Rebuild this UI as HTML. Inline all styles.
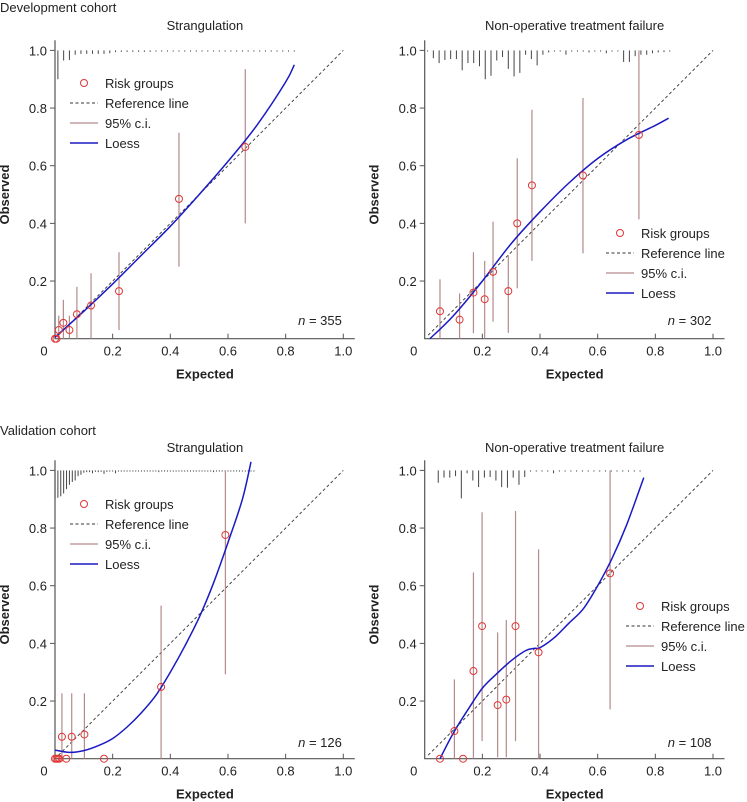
<!DOCTYPE html>
<html><head><meta charset="utf-8">
<style>
html,body{margin:0;padding:0;background:#fff;}
svg{display:block;font-family:"Liberation Sans",sans-serif;}
</style></head>
<body>
<svg id="chart" width="747" height="802" viewBox="0 0 747 802">
<text x="0" y="12" font-size="13" fill="#222">Development cohort</text>
<text x="0" y="435" font-size="13" fill="#222">Validation cohort</text>
</svg>
<script>
// ---- Panel 1: development, strangulation ----
const p1PointX = [0.0, 0.005, 0.013, 0.029, 0.05, 0.076, 0.125, 0.222, 0.43, 0.66];
const p1PointY = [0.0, 0.0, 0.03, 0.055, 0.03, 0.085, 0.115, 0.165, 0.485, 0.665];
const p1CiLo = [0, 0, 0, 0, 0, 0, 0, 0.03, 0.25, 0.40];
const p1CiHi = [0, 0, 0.08, 0.135, 0.08, 0.18, 0.227, 0.30, 0.715, 0.935];
const p1LoessX = [0, 0.1, 0.2, 0.3, 0.4, 0.5, 0.6, 0.7, 0.8, 0.83];
const p1LoessY = [0.005, 0.095, 0.19, 0.29, 0.39, 0.5, 0.615, 0.74, 0.89, 0.95];
const p1RugStart = 0.01, p1RugStep = 0.02;
const p1RugLen = [0.10,0.035,0.033,0.015,0.012,0.012,0.012,0.012,0.012,0.01,0.006,0.005,0.005,0.005,0.005,0.005,0.005,0.004,0.004,0.004,0.004,0.004,0.004,0.004,0.004,0.004,0.004,0.004,0.004,0.004,0.004,0.004,0.004,0.004,0.004,0.004,0.004,0.004,0.004,0.004,0.004,0.004];
const p1N = "355";

// ---- Panel 2: development, non-operative failure ----
const p2PointX = [0.053, 0.121, 0.169, 0.208, 0.237, 0.29, 0.321, 0.372, 0.549, 0.743];
const p2PointY = [0.095, 0.066, 0.16, 0.137, 0.232, 0.165, 0.40, 0.532, 0.566, 0.707];
const p2CiLo = [0, 0, 0.019, 0, 0.059, 0.02, 0.175, 0.27, 0.296, 0.414];
const p2CiHi = [0.206, 0.157, 0.30, 0.27, 0.406, 0.29, 0.626, 0.794, 0.835, 1.0];
const p2LoessX = [0.018, 0.1, 0.2, 0.3, 0.4, 0.5, 0.6, 0.7, 0.8, 0.846];
const p2LoessY = [0.0, 0.08, 0.2, 0.33, 0.44, 0.54, 0.625, 0.69, 0.74, 0.765];
const p2RugStart = 0.01, p2RugStep = 0.02;
const p2RugLen = [0.004,0.027,0.044,0.033,0.03,0.03,0.069,0.044,0.044,0.055,0.10,0.088,0.035,0.023,0.064,0.09,0.078,0.015,0.03,0.052,0.015,0.007,0.003,0.003,0.015,0.003,0.003,0.003,0.007,0.003,0.003,0.01,0.003,0.003,0.04,0.04,0.02,0.015,0.015,0.01,0.007,0.006,0.004];
const p2N = "302";

// ---- Panel 3: validation, strangulation ----
const p3PointX = [0.0, 0.005, 0.01, 0.015, 0.039, 0.17, 0.024, 0.058, 0.102, 0.368, 0.591];
const p3PointY = [0, 0, 0, 0, 0, 0, 0.076, 0.076, 0.084, 0.249, 0.776];
const p3CiLo = [0, 0, 0, 0, 0, 0, 0, 0, 0, 0, 0.293];
const p3CiHi = [0, 0, 0, 0, 0, 0, 0.227, 0.227, 0.227, 0.531, 1.0];
const p3LoessX = [0, 0.05, 0.1, 0.15, 0.2, 0.25, 0.3, 0.35, 0.4, 0.45, 0.5, 0.55, 0.6, 0.65, 0.68];
const p3LoessY = [0.03, 0.022, 0.028, 0.045, 0.07, 0.11, 0.16, 0.22, 0.3, 0.39, 0.49, 0.61, 0.75, 0.9, 1.03];
const p3RugStart = 0.0, p3RugStep = 0.01;
const p3RugLen = [0.10,0.095,0.09,0.08,0.065,0.05,0.04,0.035,0.02,0.015,0.008,0.006,0.006,0.01,0.005,0.006,0.005,0.012,0.005,0.004,0.004,0.01,0.004,0.004,0.004,0.004,0.004,0.004,0.004,0.004,0.004,0.004,0.004,0.004,0.004,0.004,0.006,0.004,0.004,0.004,0.004,0.004,0.004,0.004,0.004,0.004,0.004,0.004,0.004,0.004,0.004,0.004,0.004,0.004,0.004,0.006,0.004,0.004,0.004,0.004,0.004,0.004,0.004,0.004,0.004,0.004,0.004,0.004,0.004,0.004];
const p3N = "126";

// ---- Panel 4: validation, non-operative failure ----
const p4PointX = [0.053, 0.103, 0.133, 0.169, 0.199, 0.253, 0.283, 0.315, 0.395, 0.643];
const p4PointY = [0.0, 0.096, 0.0, 0.304, 0.46, 0.186, 0.205, 0.46, 0.369, 0.643];
const p4CiLo = [0, 0, 0, 0, 0.061, 0.005, 0.005, 0.061, 0, 0.171];
const p4CiHi = [0, 0.275, 0, 0.646, 0.855, 0.438, 0.481, 0.859, 0.726, 1.0];
const p4LoessX = [0.053, 0.1, 0.15, 0.2, 0.25, 0.3, 0.35, 0.38, 0.4, 0.45, 0.5, 0.55, 0.6, 0.65, 0.7, 0.76];
const p4LoessY = [0.0, 0.09, 0.17, 0.245, 0.295, 0.34, 0.375, 0.383, 0.385, 0.42, 0.47, 0.52, 0.6, 0.695, 0.81, 0.975];
const p4RugStart = 0.047, p4RugStep = 0.02;
const p4RugLen = [0.043,0.025,0.025,0.02,0.097,0.01,0.035,0.058,0.025,0.023,0.035,0.058,0.06,0.025,0.05,0.023,0.004,0.004,0.004,0.004,0.01,0.004,0.004,0.004,0.004,0.004,0.004,0.004,0.004,0.004,0.004,0.004,0.004,0.004,0.004,0.004];
const p4N = "108";

const panelTitles = ["Strangulation", "Non-operative treatment failure", "Strangulation", "Non-operative treatment failure"];
const tickValues = [0.2, 0.4, 0.6, 0.8, 1.0];
const tickLabels = ["0.2", "0.4", "0.6", "0.8", "1.0"];

const NS = "http://www.w3.org/2000/svg";
const svg = document.getElementById("chart");
function mk(tag, attrs, parent) {
  const e = document.createElementNS(NS, tag);
  for (const k in attrs) e.setAttribute(k, attrs[k]);
  (parent || svg).appendChild(e);
  return e;
}
function smoothPath(P) {
  let d = `M${P[0][0].toFixed(1)},${P[0][1].toFixed(1)}`;
  for (let i = 0; i < P.length - 1; i++) {
    const p0 = P[Math.max(i - 1, 0)], p1 = P[i], p2 = P[i + 1], p3 = P[Math.min(i + 2, P.length - 1)];
    const c1 = [p1[0] + (p2[0] - p0[0]) / 6, p1[1] + (p2[1] - p0[1]) / 6];
    const c2 = [p2[0] - (p3[0] - p1[0]) / 6, p2[1] - (p3[1] - p1[1]) / 6];
    d += ` C${c1[0].toFixed(1)},${c1[1].toFixed(1)} ${c2[0].toFixed(1)},${c2[1].toFixed(1)} ${p2[0].toFixed(1)},${p2[1].toFixed(1)}`;
  }
  return d;
}

const layouts = [
  {ox: 55, oy: 338.7, legend: {x: 84, y: 83}, titleY: 30, nY: 325, key: "dev-strangulation"},
  {ox: 424.7, oy: 338.7, legend: {x: 620, y: 233}, titleY: 30, nY: 325, key: "dev-nonop"},
  {ox: 55, oy: 758.7, legend: {x: 84, y: 504}, titleY: 452, nY: 747, key: "val-strangulation"},
  {ox: 424.7, oy: 758.7, legend: {x: 640, y: 606}, titleY: 452, nY: 747, key: "val-nonop"}
];
const panels = [
  [p1PointX, p1PointY, p1CiLo, p1CiHi, p1LoessX, p1LoessY, p1RugStart, p1RugStep, p1RugLen, p1N],
  [p2PointX, p2PointY, p2CiLo, p2CiHi, p2LoessX, p2LoessY, p2RugStart, p2RugStep, p2RugLen, p2N],
  [p3PointX, p3PointY, p3CiLo, p3CiHi, p3LoessX, p3LoessY, p3RugStart, p3RugStep, p3RugLen, p3N],
  [p4PointX, p4PointY, p4CiLo, p4CiHi, p4LoessX, p4LoessY, p4RugStart, p4RugStep, p4RugLen, p4N]
];
const S = 288.3;

panels.forEach((d, i) => {
  const L = layouts[i];
  const xs = v => L.ox + v * S;
  const ys = v => L.oy - v * S;
  const g = mk("g", {});
  
  

  const t = mk("text", {x: xs(0.52), y: L.titleY, "font-size": 13, fill: "#222", "text-anchor": "middle"}, g);
  t.textContent = panelTitles[i];
  
  

  const ax = mk("path", {d: `M${xs(0)} ${ys(1.035)}V${ys(0)}H${xs(1.04)}`, stroke: "#555", "stroke-width": 1.2, fill: "none"}, g);
  
  
  tickValues.forEach((v, k) => {
    const xt = mk("line", {x1: xs(v), x2: xs(v), y1: ys(0), y2: ys(0) - 5, stroke: "#555"}, g);
    
    
    const xl = mk("text", {x: xs(v), y: ys(0) + 17, "font-size": 13, fill: "#222", "text-anchor": "middle"}, g);
    xl.textContent = tickLabels[k];
    
    
    const yt = mk("line", {x1: xs(0) - 5, x2: xs(0), y1: ys(v), y2: ys(v), stroke: "#555"}, g);
    
    
    const yl = mk("text", {x: xs(0) - 8, y: ys(v) + 5, "font-size": 13, fill: "#222", "text-anchor": "end"}, g);
    yl.textContent = tickLabels[k];
    
    
  });
  const zl = mk("text", {x: xs(0) - 11, y: ys(0) + 17, "font-size": 13, fill: "#222", "text-anchor": "middle"}, g);
  zl.textContent = "0";
  
  
  const xt = mk("text", {x: xs(0.52), y: ys(0) + 40, "font-size": 13, "font-weight": "bold", fill: "#222", "text-anchor": "middle"}, g);
  xt.textContent = "Expected";
  
  
  const yx = L.ox - 46, yy = ys(0.5);
  const yt = mk("text", {x: yx, y: yy, "font-size": 13, "font-weight": "bold", fill: "#222", "text-anchor": "middle", transform: `rotate(-90 ${yx} ${yy})`}, g);
  yt.textContent = "Observed";
  
  

  const [px, py, lo, hi, lx, ly, rs, rstep, rl, n] = d;
  rl.forEach((len, k) => {
    const xv = rs + rstep * k;
    const r = mk("line", {x1: xs(xv), x2: xs(xv), y1: ys(1), y2: ys(1 - Math.max(len, 0.004)), stroke: "#444", "stroke-width": 1}, g);
    
    
  });

  const ref = mk("line", {x1: xs(0.012), y1: ys(0.012), x2: xs(1), y2: ys(1), stroke: "#333", "stroke-width": 0.9, "stroke-dasharray": "3,2.5"}, g);
  
  

  px.forEach((x, k) => {
    if (hi[k] > lo[k]) {
      const c = mk("line", {x1: xs(x), x2: xs(x), y1: ys(lo[k]), y2: ys(hi[k]), stroke: "#b48a8a", "stroke-width": 1.2}, g);
      
      
    }
  });

  const P = lx.map((x, k) => [xs(x), ys(ly[k])]);
  const lo2 = mk("path", {d: smoothPath(P), fill: "none", stroke: "#1a1ac4", "stroke-width": 1.5}, g);
  
  

  px.forEach((x, k) => {
    const c = mk("circle", {cx: xs(x), cy: ys(py[k]), r: 3.5, fill: "none", stroke: "#e03535", "stroke-width": 1}, g);
    
    
  });

  const nt = mk("text", {x: xs(0.995), y: L.nY, "font-size": 13, fill: "#222", "text-anchor": "end"}, g);
  nt.innerHTML = '<tspan font-style="italic">n</tspan> = ' + n;
  
  

  const lg = mk("g", {}, g);
  
  
  const lx0 = L.legend.x, ly0 = L.legend.y;
  const labels = ["Risk groups", "Reference line", "95% c.i.", "Loess"];
  labels.forEach((lab, k) => {
    const yy2 = ly0 + 20 * k;
    if (k === 0) {
      const c = mk("circle", {cx: lx0, cy: yy2, r: 3.5, fill: "none", stroke: "#e03535"}, lg);
      
      
    } else {
      const attrs = {x1: lx0 - 14, x2: lx0 + 14, y1: yy2, y2: yy2};
      if (k === 1) { attrs.stroke = "#333"; attrs["stroke-dasharray"] = "3,2.5"; attrs["stroke-width"] = 0.9; }
      if (k === 2) { attrs.stroke = "#b48a8a"; attrs["stroke-width"] = 1.2; }
      if (k === 3) { attrs.stroke = "#1a1ac4"; attrs["stroke-width"] = 1.5; }
      const ln = mk("line", attrs, lg);
      
      
    }
    const tx = mk("text", {x: lx0 + 21, y: yy2 + 5, "font-size": 13, fill: "#222"}, lg);
    tx.textContent = lab;
    
    
  });
});
</script>
</body></html>
